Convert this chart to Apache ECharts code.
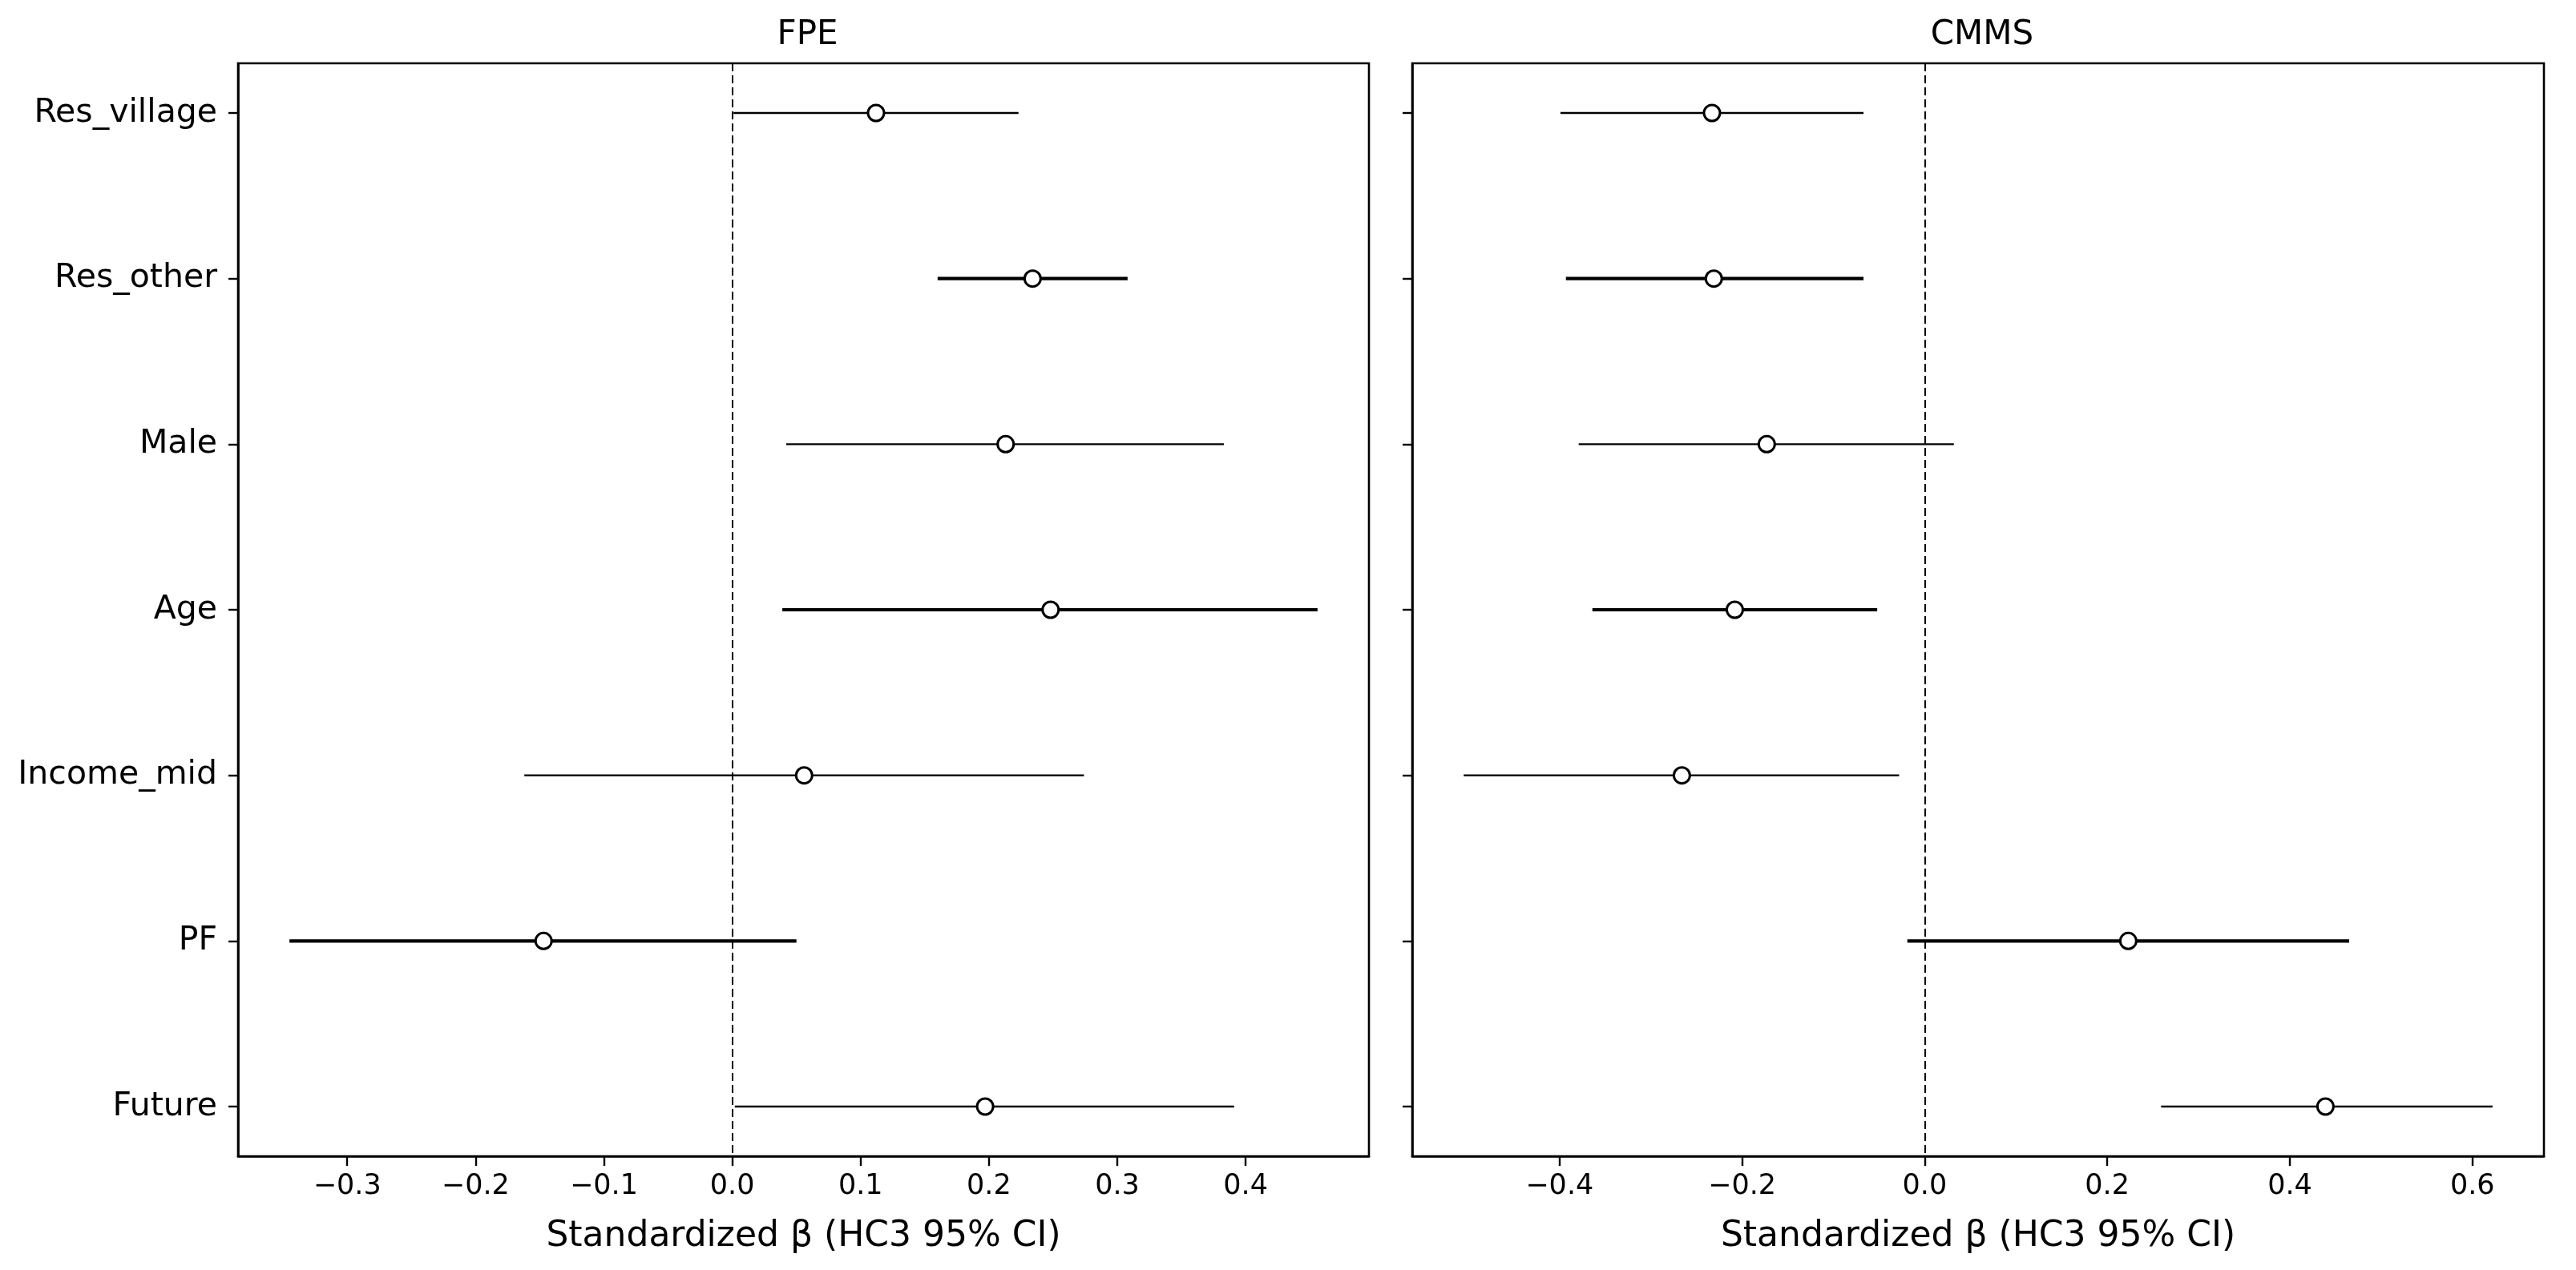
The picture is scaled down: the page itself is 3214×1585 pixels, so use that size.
<!DOCTYPE html>
<html>
<head>
<meta charset="utf-8">
<script src="https://cdn.jsdelivr.net/npm/echarts@6/dist/echarts.min.js"></script>
<style>
html,body{margin:0;padding:0;background:#fff;}
#chart{width:3214px;height:1585px;}
</style>
</head>
<body>
<div id="chart"></div>
<script>
// ---- data ----
const categories = ['Res_village','Res_other','Male','Age','Income_mid','PF','Future'];
const panelTitles = ['FPE','CMMS'];
const fpeEst  = [0.112, 0.234, 0.213, 0.248, 0.056, -0.147, 0.197];
const fpeLow  = [0.001, 0.160, 0.042, 0.039, -0.162, -0.345, 0.002];
const fpeHigh = [0.223, 0.308, 0.383, 0.456, 0.274, 0.050, 0.391];
const cmmsEst  = [-0.233, -0.231, -0.173, -0.208, -0.266, 0.223, 0.439];
const cmmsLow  = [-0.399, -0.393, -0.379, -0.364, -0.505, -0.019, 0.259];
const cmmsHigh = [-0.067, -0.067, 0.032, -0.052, -0.028, 0.465, 0.622];
const fpeTicks  = [-0.3, -0.2, -0.1, 0.0, 0.1, 0.2, 0.3, 0.4];
const cmmsTicks = [-0.4, -0.2, 0.0, 0.2, 0.4, 0.6];
const xLabel = 'Standardized β (HC3 95% CI)';

// ---- build ----
const FONT = 'DejaVu Sans';
const yIdx = categories.map((c, i) => i);

function limits(lo, hi) {
  const mn = Math.min(...lo), mx = Math.max(...hi);
  const m = (mx - mn) * 0.05;
  return [mn - m, mx + m];
}
function fmt(v) {
  const s = Math.abs(v).toFixed(1);
  return (v < -1e-9 ? '\u2212' : '') + s;
}

const grids = [
  {left: 297, top: 79, width: 1411, height: 1364},
  {left: 1762, top: 79, width: 1412, height: 1364}
];
const sets = [
  {est: fpeEst, lo: fpeLow, hi: fpeHigh, ticks: fpeTicks},
  {est: cmmsEst, lo: cmmsLow, hi: cmmsHigh, ticks: cmmsTicks}
];

const option = {
  animation: false,
  backgroundColor: '#fff',
  title: panelTitles.map((t, k) => ({
    text: t,
    left: grids[k].left + grids[k].width / 2,
    top: 18,
    textAlign: 'center',
    textStyle: {fontFamily: FONT, fontSize: 42, fontWeight: 'normal', color: '#000'}
  })),
  grid: grids.map(g => Object.assign({show: true, borderColor: '#000', borderWidth: 2.6, backgroundColor: 'transparent', containLabel: false}, g)),
  xAxis: sets.map((s, k) => {
    const lim = limits(s.lo, s.hi);
    return {
      type: 'value', gridIndex: k, min: lim[0], max: lim[1],
      axisLine: {show: true, onZero: false, lineStyle: {color: '#000', width: 2.6}},
      axisTick: {show: true, length: 12, lineStyle: {color: '#000', width: 2.4}, customValues: s.ticks},
      axisLabel: {show: true, margin: 20, customValues: s.ticks, formatter: fmt,
        fontFamily: FONT, fontSize: 35, color: '#000'},
      splitLine: {show: false},
      name: xLabel, nameLocation: 'middle', nameGap: 79,
      nameTextStyle: {fontFamily: FONT, fontSize: 44, color: '#000'}
    };
  }),
  yAxis: sets.map((s, k) => ({
    type: 'value', gridIndex: k, min: -0.3, max: 6.3, inverse: true,
    axisLine: {show: true, onZero: false, lineStyle: {color: '#000', width: 2.6}},
    axisTick: {show: true, length: 12, lineStyle: {color: '#000', width: 2.4}, customValues: yIdx},
    axisLabel: {show: k === 0, margin: 26, customValues: yIdx,
      formatter: v => categories[Math.round(v)] || '',
      fontFamily: FONT, fontSize: 41, color: '#000'},
    splitLine: {show: false}
  })),
  series: []
};

sets.forEach((s, k) => {
  option.series.push({
    type: 'custom', xAxisIndex: k, yAxisIndex: k, z: 3,
    data: yIdx.map(i => [s.lo[i], s.hi[i], i]),
    renderItem: function (params, api) {
      const i = api.value(2);
      const a = api.coord([api.value(0), i]);
      const b = api.coord([api.value(1), i]);
      return {
        type: 'line',
        shape: {x1: a[0], y1: a[1], x2: b[0], y2: b[1]},
        style: {stroke: '#000', lineWidth: (i % 2 === 1) ? 4.2 : 2.4}
      };
    },
    silent: true
  });
  option.series.push({
    type: 'scatter', xAxisIndex: k, yAxisIndex: k, z: 5,
    data: yIdx.map(i => [s.est[i], i]),
    symbol: 'circle', symbolSize: 20,
    itemStyle: {color: '#fff', borderColor: '#000', borderWidth: 3, opacity: 1},
    silent: true,
    markLine: {
      silent: true, symbol: 'none', z: 2,
      label: {show: false},
      lineStyle: {color: '#000', width: 2, type: [10, 5]},
      data: [{xAxis: 0}]
    }
  });
});

const chart = echarts.init(document.getElementById('chart'));
chart.setOption(option);
</script>
</body>
</html>
